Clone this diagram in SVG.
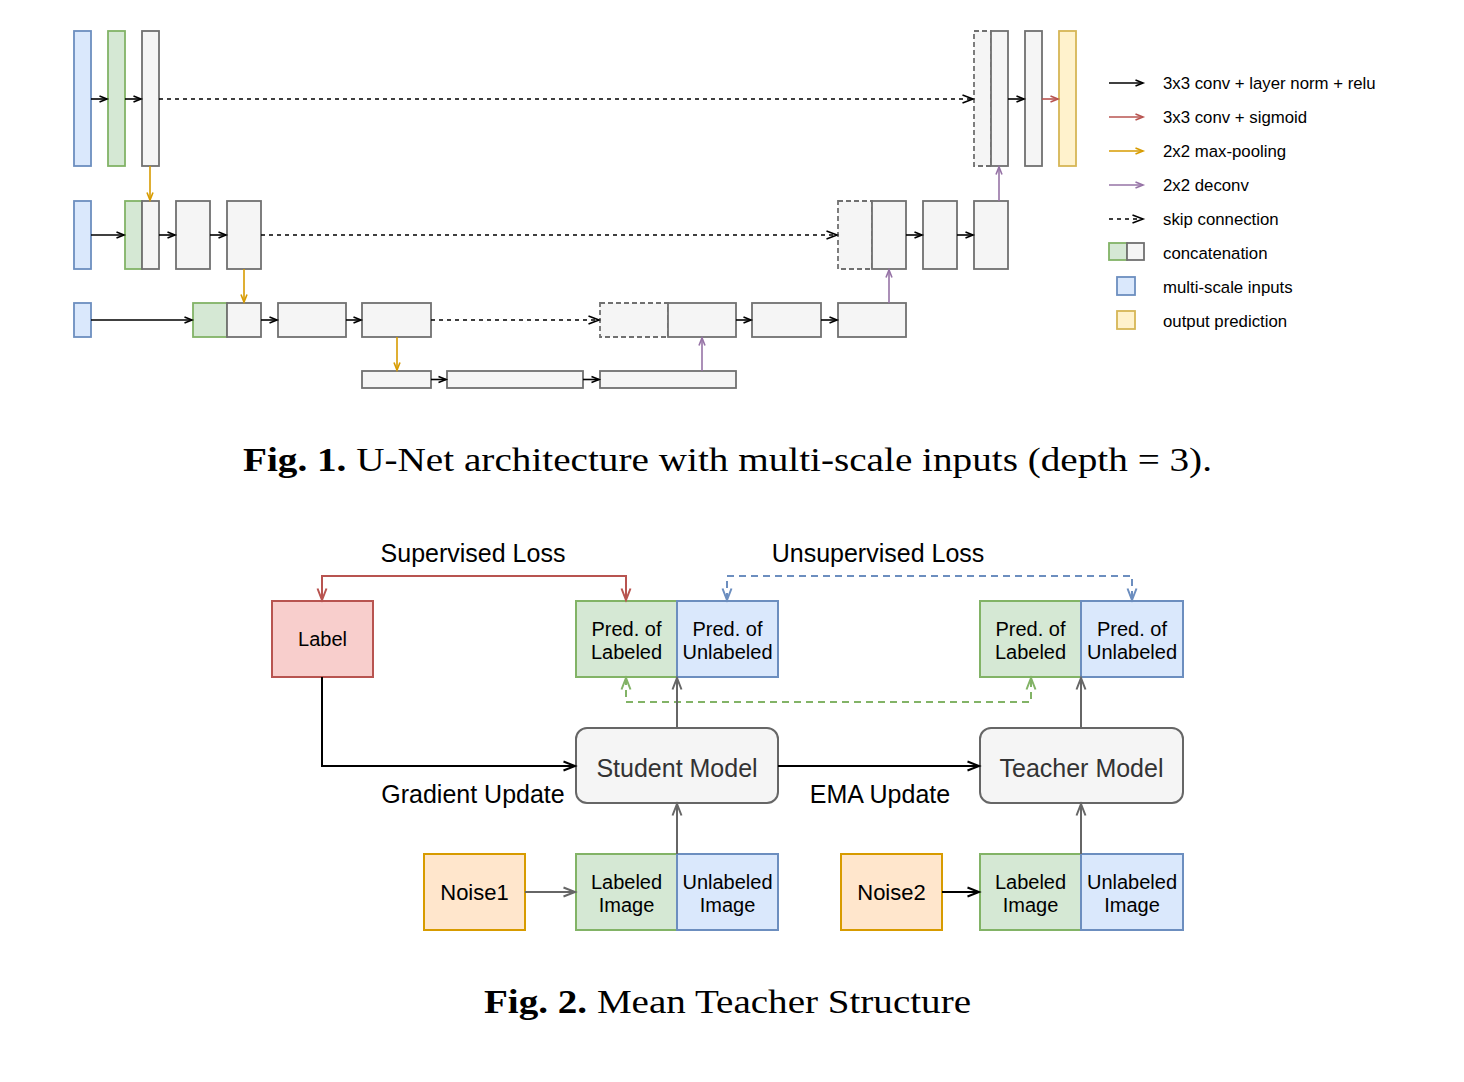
<svg xmlns="http://www.w3.org/2000/svg" width="1464" height="1082" viewBox="0 0 1464 1082">
<style>
.bl{fill:#dae8fc;stroke:#6c8ebf;stroke-width:1.8}
.gr{fill:#d5e8d4;stroke:#82b366;stroke-width:1.8}
.gy{fill:#f5f5f5;stroke:#707070;stroke-width:1.8}
.gyd{fill:#f5f5f5;stroke:#707070;stroke-width:1.8;stroke-dasharray:5 3}
.ye{fill:#fff2cc;stroke:#d6b656;stroke-width:1.8}
.rd{fill:#f8cecc;stroke:#b85450;stroke-width:2}
.or{fill:#ffe6cc;stroke:#d79b00;stroke-width:2}
.b2{stroke-width:2}
.cb{fill:none;stroke:#000;stroke-width:1.6}
.cd{fill:none;stroke:#000;stroke-width:1.6;stroke-dasharray:4 4}
.co{fill:none;stroke:#d79b00;stroke-width:1.6}
.cp{fill:none;stroke:#9673a6;stroke-width:1.6}
.cr{fill:none;stroke:#b85450;stroke-width:1.6}
.lg{font-family:"Liberation Sans",Arial,sans-serif;font-size:16.8px;fill:#000}
.t20{font-family:"Liberation Sans",Arial,sans-serif;font-size:20px;fill:#000;text-anchor:middle}
.t22{font-family:"Liberation Sans",Arial,sans-serif;font-size:22px;fill:#000;text-anchor:middle}
.t25{font-family:"Liberation Sans",Arial,sans-serif;font-size:25px;fill:#000;text-anchor:middle}
.tm{font-family:"Liberation Sans",Arial,sans-serif;font-size:25px;fill:#333;text-anchor:middle}
.cap{font-family:"Liberation Serif","Times New Roman",serif;font-size:33px;fill:#000}
.k2{fill:none;stroke:#000;stroke-width:2}
.g2{fill:none;stroke:#666;stroke-width:2}
.r2{fill:none;stroke:#b85450;stroke-width:2}
.bd2{fill:none;stroke:#6c8ebf;stroke-width:2;stroke-dasharray:7 5}
.gd2{fill:none;stroke:#82b366;stroke-width:2;stroke-dasharray:7 5}
</style>
<defs>
<marker id="aK" markerUnits="userSpaceOnUse" markerWidth="10" markerHeight="8" refX="8" refY="3.5" orient="auto" overflow="visible"><path d="M0.5,0.5 L8,3.5 L0.5,6.5" fill="none" stroke="#000" stroke-width="1.6"/></marker>
<marker id="aD" markerUnits="userSpaceOnUse" markerWidth="12" markerHeight="10" refX="11" refY="4.5" orient="auto" overflow="visible"><path d="M0.5,0.5 L11,4.5 L0.5,8.5" fill="none" stroke="#000" stroke-width="1.6"/></marker>
<marker id="aO" markerUnits="userSpaceOnUse" markerWidth="10" markerHeight="8" refX="8" refY="3.5" orient="auto" overflow="visible"><path d="M0.5,0.5 L8,3.5 L0.5,6.5" fill="none" stroke="#d79b00" stroke-width="1.6"/></marker>
<marker id="aP" markerUnits="userSpaceOnUse" markerWidth="10" markerHeight="8" refX="8" refY="3.5" orient="auto" overflow="visible"><path d="M0.5,0.5 L8,3.5 L0.5,6.5" fill="none" stroke="#9673a6" stroke-width="1.6"/></marker>
<marker id="aR" markerUnits="userSpaceOnUse" markerWidth="10" markerHeight="8" refX="8" refY="3.5" orient="auto" overflow="visible"><path d="M0.5,0.5 L8,3.5 L0.5,6.5" fill="none" stroke="#b85450" stroke-width="1.6"/></marker>
<marker id="bK" markerUnits="userSpaceOnUse" markerWidth="14" markerHeight="12" refX="12" refY="5" orient="auto" overflow="visible"><path d="M0.5,0.5 L12,5 L0.5,9.5" fill="none" stroke="#000" stroke-width="2"/></marker>
<marker id="bG" markerUnits="userSpaceOnUse" markerWidth="14" markerHeight="12" refX="12" refY="5" orient="auto" overflow="visible"><path d="M0.5,0.5 L12,5 L0.5,9.5" fill="none" stroke="#666" stroke-width="2"/></marker>
<marker id="bR" markerUnits="userSpaceOnUse" markerWidth="14" markerHeight="12" refX="12" refY="5" orient="auto-start-reverse" overflow="visible"><path d="M0.5,0.5 L12,5 L0.5,9.5" fill="none" stroke="#b85450" stroke-width="2"/></marker>
<marker id="bB" markerUnits="userSpaceOnUse" markerWidth="14" markerHeight="12" refX="12" refY="5" orient="auto-start-reverse" overflow="visible"><path d="M0.5,0.5 L12,5 L0.5,9.5" fill="none" stroke="#6c8ebf" stroke-width="2"/></marker>
<marker id="bN" markerUnits="userSpaceOnUse" markerWidth="14" markerHeight="12" refX="12" refY="5" orient="auto-start-reverse" overflow="visible"><path d="M0.5,0.5 L12,5 L0.5,9.5" fill="none" stroke="#82b366" stroke-width="2"/></marker>
</defs>

<!-- Fig 1 nodes -->
<g id="unet-row1">
<rect id="r1-in" class="bl" x="74" y="31" width="17" height="135"/>
<rect id="r1-c1" class="gr" x="108" y="31" width="17" height="135"/>
<rect id="r1-c2" class="gy" x="142" y="31" width="17" height="135"/>
<rect id="r1-skip" class="gyd" x="974" y="31" width="17" height="135"/>
<rect id="r1-up" class="gy" x="991" y="31" width="17" height="135"/>
<rect id="r1-c3" class="gy" x="1025" y="31" width="17" height="135"/>
<rect id="r1-out" class="ye" x="1059" y="31" width="17" height="135"/>
</g>
<g id="unet-row2">
<rect id="r2-in" class="bl" x="74" y="201" width="17" height="68"/>
<rect id="r2-cat" class="gr" x="125" y="201" width="17" height="68"/>
<rect id="r2-pool" class="gy" x="142" y="201" width="17" height="68"/>
<rect id="r2-c1" class="gy" x="176" y="201" width="34" height="68"/>
<rect id="r2-c2" class="gy" x="227" y="201" width="34" height="68"/>
<rect id="r2-skip" class="gyd" x="838" y="201" width="34" height="68"/>
<rect id="r2-up" class="gy" x="872" y="201" width="34" height="68"/>
<rect id="r2-c3" class="gy" x="923" y="201" width="34" height="68"/>
<rect id="r2-c4" class="gy" x="974" y="201" width="34" height="68"/>
</g>
<g id="unet-row3">
<rect id="r3-in" class="bl" x="74" y="303" width="17" height="34"/>
<rect id="r3-cat" class="gr" x="193" y="303" width="34" height="34"/>
<rect id="r3-pool" class="gy" x="227" y="303" width="34" height="34"/>
<rect id="r3-c1" class="gy" x="278" y="303" width="68" height="34"/>
<rect id="r3-c2" class="gy" x="362" y="303" width="69" height="34"/>
<rect id="r3-skip" class="gyd" x="600" y="303" width="68" height="34"/>
<rect id="r3-up" class="gy" x="668" y="303" width="68" height="34"/>
<rect id="r3-c3" class="gy" x="752" y="303" width="69" height="34"/>
<rect id="r3-c4" class="gy" x="838" y="303" width="68" height="34"/>
</g>
<g id="unet-row4">
<rect id="r4-pool" class="gy" x="362" y="371" width="69" height="17"/>
<rect id="r4-c1" class="gy" x="447" y="371" width="136" height="17"/>
<rect id="r4-c2" class="gy" x="600" y="371" width="136" height="17"/>
</g>

<g id="unet-connectors">
<path class="cb" marker-end="url(#aK)" d="M91,99H107"/>
<path class="cb" marker-end="url(#aK)" d="M125,99H141"/>
<path class="cd" marker-end="url(#aD)" d="M159,99H973"/>
<path class="cb" marker-end="url(#aK)" d="M1008,99H1024"/>
<path class="cr" marker-end="url(#aR)" d="M1042,99H1058"/>
<path class="cb" marker-end="url(#aK)" d="M91,235H124"/>
<path class="cb" marker-end="url(#aK)" d="M159,235H175"/>
<path class="cb" marker-end="url(#aK)" d="M210,235H226"/>
<path class="cd" marker-end="url(#aD)" d="M261,235H837"/>
<path class="cb" marker-end="url(#aK)" d="M906,235H922"/>
<path class="cb" marker-end="url(#aK)" d="M957,235H973"/>
<path class="cb" marker-end="url(#aK)" d="M91,320H192"/>
<path class="cb" marker-end="url(#aK)" d="M261,320H277"/>
<path class="cb" marker-end="url(#aK)" d="M346,320H361"/>
<path class="cd" marker-end="url(#aD)" d="M431,320H599"/>
<path class="cb" marker-end="url(#aK)" d="M736,320H751"/>
<path class="cb" marker-end="url(#aK)" d="M821,320H837"/>
<path class="cb" marker-end="url(#aK)" d="M431,379.5H446"/>
<path class="cb" marker-end="url(#aK)" d="M583,379.5H599"/>
<path class="co" marker-end="url(#aO)" d="M150,166V200"/>
<path class="co" marker-end="url(#aO)" d="M244,269V302"/>
<path class="co" marker-end="url(#aO)" d="M397,337V370"/>
<path class="cp" marker-end="url(#aP)" d="M702,371V338"/>
<path class="cp" marker-end="url(#aP)" d="M889,303V270"/>
<path class="cp" marker-end="url(#aP)" d="M999,201V167"/>
</g>

<g id="legend">
<path class="cb" stroke-width="1.3" marker-end="url(#aK)" d="M1109,83H1143"/>
<text class="lg" x="1163" y="89">3x3 conv + layer norm + relu</text>
<path class="cr" stroke-width="1.3" marker-end="url(#aR)" d="M1109,117H1143"/>
<text class="lg" x="1163" y="123">3x3 conv + sigmoid</text>
<path class="co" stroke-width="1.3" marker-end="url(#aO)" d="M1109,151H1143"/>
<text class="lg" x="1163" y="157">2x2 max-pooling</text>
<path class="cp" stroke-width="1.3" marker-end="url(#aP)" d="M1109,185H1143"/>
<text class="lg" x="1163" y="191">2x2 deconv</text>
<path class="cd" stroke-width="1.3" marker-end="url(#aD)" d="M1109,219H1143"/>
<text class="lg" x="1163" y="225">skip connection</text>
<rect class="gr" x="1109" y="243" width="18" height="17"/>
<rect class="gy" x="1127" y="243" width="17" height="17"/>
<text class="lg" x="1163" y="259">concatenation</text>
<rect class="bl" x="1117" y="277" width="18" height="18"/>
<text class="lg" x="1163" y="293">multi-scale inputs</text>
<rect class="ye" x="1117" y="311" width="18" height="18"/>
<text class="lg" x="1163" y="327">output prediction</text>
</g>

<text id="cap1" class="cap" x="243" y="471" textLength="969" lengthAdjust="spacingAndGlyphs"><tspan font-weight="bold">Fig. 1.</tspan> U-Net architecture with multi-scale inputs (depth = 3).</text>

<!-- Fig 2 -->
<g id="label"><rect class="rd" x="272" y="601" width="101" height="76"/><text class="t20" x="322.5" y="646">Label</text></g>
<g id="s-pred-l"><rect class="gr b2" x="576" y="601" width="101" height="76"/><text class="t20" x="626.5" y="636">Pred. of</text><text class="t20" x="626.5" y="659">Labeled</text></g>
<g id="s-pred-u"><rect class="bl b2" x="677" y="601" width="101" height="76"/><text class="t20" x="727.5" y="636">Pred. of</text><text class="t20" x="727.5" y="659">Unlabeled</text></g>
<g id="t-pred-l"><rect class="gr b2" x="980" y="601" width="101" height="76"/><text class="t20" x="1030.5" y="636">Pred. of</text><text class="t20" x="1030.5" y="659">Labeled</text></g>
<g id="t-pred-u"><rect class="bl b2" x="1081" y="601" width="102" height="76"/><text class="t20" x="1132" y="636">Pred. of</text><text class="t20" x="1132" y="659">Unlabeled</text></g>
<g id="student"><rect class="gy b2" x="576" y="728" width="202" height="75" rx="11" style="stroke:#666"/><text class="tm" x="677" y="777">Student Model</text></g>
<g id="teacher"><rect class="gy b2" x="980" y="728" width="203" height="75" rx="11" style="stroke:#666"/><text class="tm" x="1081.5" y="777">Teacher Model</text></g>
<g id="noise1"><rect class="or" x="424" y="854" width="101" height="76"/><text class="t22" x="474.5" y="900">Noise1</text></g>
<g id="s-img-l"><rect class="gr b2" x="576" y="854" width="101" height="76"/><text class="t20" x="626.5" y="889">Labeled</text><text class="t20" x="626.5" y="912">Image</text></g>
<g id="s-img-u"><rect class="bl b2" x="677" y="854" width="101" height="76"/><text class="t20" x="727.5" y="889">Unlabeled</text><text class="t20" x="727.5" y="912">Image</text></g>
<g id="noise2"><rect class="or" x="841" y="854" width="101" height="76"/><text class="t22" x="891.5" y="900">Noise2</text></g>
<g id="t-img-l"><rect class="gr b2" x="980" y="854" width="101" height="76"/><text class="t20" x="1030.5" y="889">Labeled</text><text class="t20" x="1030.5" y="912">Image</text></g>
<g id="t-img-u"><rect class="bl b2" x="1081" y="854" width="102" height="76"/><text class="t20" x="1132" y="889">Unlabeled</text><text class="t20" x="1132" y="912">Image</text></g>

<g id="mt-connectors">
<path class="r2" marker-start="url(#bR)" marker-end="url(#bR)" d="M322,600V576H626V600"/>
<path class="bd2" marker-start="url(#bB)" marker-end="url(#bB)" d="M727,600V576H1132V600"/>
<path class="gd2" marker-start="url(#bN)" marker-end="url(#bN)" d="M626,678V702H1031V678"/>
<path class="k2" marker-end="url(#bK)" d="M322,677V766H575"/>
<path class="k2" marker-end="url(#bK)" d="M778,766H979"/>
<path class="g2" marker-end="url(#bG)" d="M677,728V678"/>
<path class="g2" marker-end="url(#bG)" d="M1081,728V678"/>
<path class="g2" marker-end="url(#bG)" d="M677,854V804"/>
<path class="g2" marker-end="url(#bG)" d="M1081,854V804"/>
<path class="g2" marker-end="url(#bG)" d="M525,892H575"/>
<path class="k2" marker-end="url(#bK)" d="M942,892H979"/>
</g>
<text class="t25" x="473" y="562">Supervised Loss</text>
<text class="t25" x="878" y="562">Unsupervised Loss</text>
<text class="t25" x="473" y="803">Gradient Update</text>
<text class="t25" x="880" y="803">EMA Update</text>

<text id="cap2" class="cap" x="484" y="1013" textLength="487" lengthAdjust="spacingAndGlyphs"><tspan font-weight="bold">Fig. 2.</tspan> Mean Teacher Structure</text>
</svg>
